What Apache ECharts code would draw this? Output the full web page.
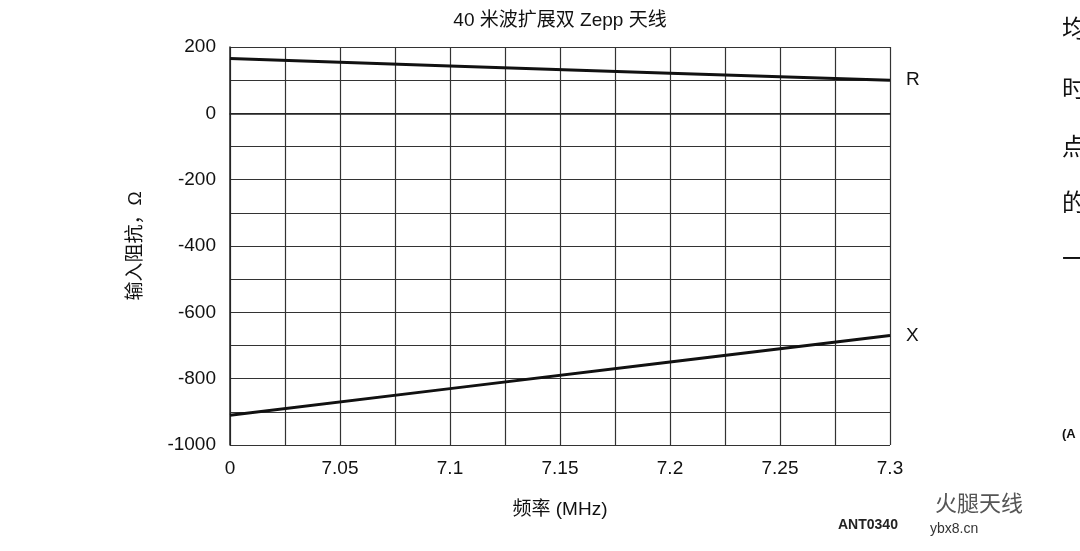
<!DOCTYPE html>
<html lang="zh">
<head>
<meta charset="UTF-8">
<title>40 米波扩展双 Zepp 天线</title>
<script src="https://cdn.jsdelivr.net/npm/echarts@6/dist/echarts.min.js"></script>
<style>
html,body{margin:0;padding:0;background:#fff;}
#chart{width:1080px;height:551px;}
</style>
</head>
<body>
<div id="chart"></div>
<script>
var freqs = [7.0, 7.1, 7.2, 7.3];
var rValues = [165, 143, 121, 100];
var xValues = [-910, -830, -750, -670];

function pairs(v) { return freqs.map(function (f, i) { return [f, v[i]]; }); }

var font = '"Liberation Sans","Noto Sans CJK SC",sans-serif';
var chart = echarts.init(document.getElementById('chart'));
var lineSeries = function (name, vals) {
  return {
    name: name, type: 'line', data: pairs(vals), symbol: 'none',
    lineStyle: { color: '#111', width: 3 },
    endLabel: { show: true, formatter: name, color: '#111', fontSize: 19, fontFamily: font, distance: 16 }
  };
};
chart.setOption({
  animation: false,
  title: { text: '40 米波扩展双 Zepp 天线', left: 555, top: 6, textAlign: 'center',
    textStyle: { fontSize: 19, fontWeight: 'normal', color: '#111', fontFamily: font } },
  grid: { left: 230, right: 190, top: 47, bottom: 106 },
  xAxis: {
    type: 'value', min: 7, max: 7.3, interval: 0.025,
    name: '频率 (MHz)', nameLocation: 'middle', nameGap: 55,
    nameTextStyle: { fontSize: 19, color: '#111', fontFamily: font },
    axisLine: { lineStyle: { color: '#222', width: 1.5 } },
    axisTick: { show: false },
    axisLabel: { fontSize: 19, color: '#111', fontFamily: font, margin: 14,
      formatter: function (v) {
        var m = Math.round(v * 1000);
        if (m % 50 !== 0) return '';
        if (m === 7000) return '0';
        return String(Math.round(v * 100) / 100);
      } },
    splitLine: { lineStyle: { color: '#333', width: 1.2 } }
  },
  yAxis: {
    type: 'value', min: -1000, max: 200, interval: 100,
    name: '输入阻抗，Ω', nameLocation: 'middle', nameGap: 85,
    nameTextStyle: { fontSize: 19, color: '#111', fontFamily: font },
    axisLine: { show: true, lineStyle: { color: '#222', width: 1.5 } },
    axisTick: { show: false },
    axisLabel: { fontSize: 19, color: '#111', fontFamily: font, margin: 14,
      formatter: function (v) { return v % 200 === 0 ? String(v) : ''; } },
    splitLine: { lineStyle: { color: '#333', width: 1.2 } }
  },
  series: [lineSeries('R', rValues), lineSeries('X', xValues)],
  graphic: [
    { type: 'text', left: 838, top: 518, style: { text: 'ANT0340', fontSize: 14, fontWeight: 'bold', fill: '#222', font: 'bold 14px ' + font } },
    { type: 'text', left: 935, top: 492, style: { text: '火腿天线', fill: '#555', font: '22px "Noto Sans CJK SC"' } },
    { type: 'text', left: 930, top: 522, style: { text: 'ybx8.cn', fill: '#333', font: '14px ' + font } },
    { type: 'text', left: 1062, top: 16, style: { text: '均', fill: '#111', font: '24px "Noto Sans CJK SC"' } },
    { type: 'text', left: 1062, top: 76, style: { text: '时', fill: '#111', font: '24px "Noto Sans CJK SC"' } },
    { type: 'text', left: 1062, top: 134, style: { text: '点', fill: '#111', font: '24px "Noto Sans CJK SC"' } },
    { type: 'text', left: 1062, top: 190, style: { text: '的', fill: '#111', font: '24px "Noto Sans CJK SC"' } },
    { type: 'text', left: 1062, top: 246, style: { text: '一', fill: '#111', font: '24px "Noto Sans CJK SC"' } },
    { type: 'text', left: 1062, top: 428, style: { text: '(A', fill: '#111', font: 'bold 13px ' + font } }
  ]
});
</script>
</body>
</html>
